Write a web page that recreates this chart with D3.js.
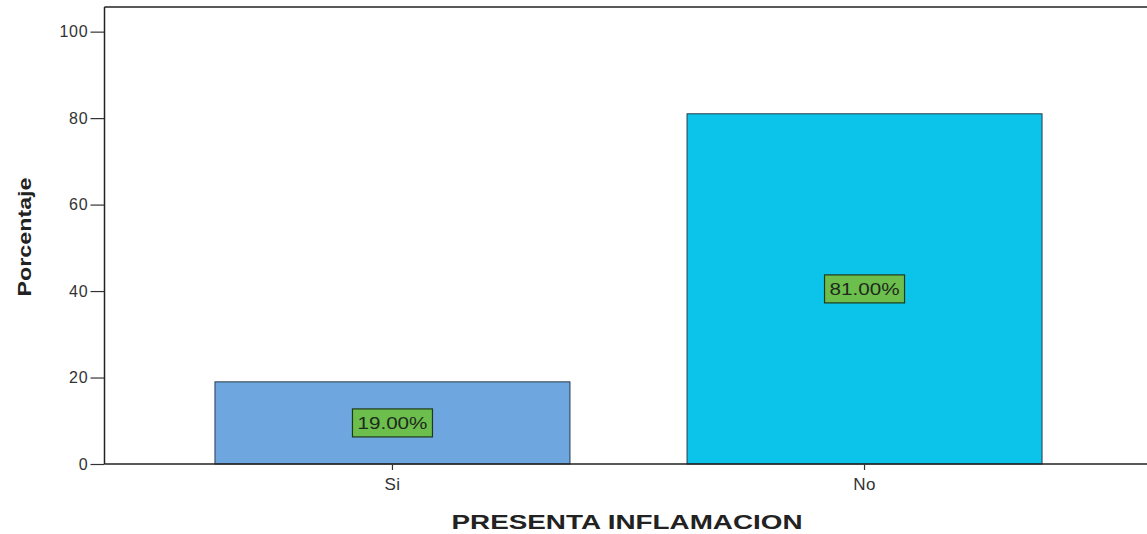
<!DOCTYPE html>
<html>
<head>
<meta charset="utf-8">
<script src="https://cdn.jsdelivr.net/npm/d3@7"></script>
<style>
  html, body { margin: 0; padding: 0; background: #fff; }
  svg { display: block; }
</style>
</head>
<body>
<svg id="chart" width="1147" height="534"></svg>
<script>
const categories = ["Si", "No"];
const values = [19.0, 81.0];
const valueLabels = ["19.00%", "81.00%"];
const yTicks = [0, 20, 40, 60, 80, 100];
const barColors = ["#6ea7df", "#0cc3ea"];

const W = 1147, H = 534;
const svg = d3.select("#chart");
const FONT = "Liberation Sans, Arial, sans-serif";

const y = d3.scaleLinear().domain([0, 105.7]).range([464, 7]);
const x = d3.scaleBand().domain(categories)
  .range([104.5, 1152.5]).paddingInner(0.248).paddingOuter(0.234);

// frame top line
svg.append("line").attr("x1", 104.5).attr("x2", W).attr("y1", 7).attr("y2", 7)
  .attr("stroke", "#222").attr("stroke-width", 1.5);

// bars
svg.selectAll("rect.bar").data(values).enter().append("rect")
  .attr("class", "bar")
  .attr("x", (d, i) => x(categories[i]))
  .attr("y", d => y(d))
  .attr("width", x.bandwidth())
  .attr("height", d => y(0) - y(d))
  .attr("fill", (d, i) => barColors[i])
  .attr("stroke", "#2a3a4a").attr("stroke-width", 1);

// value labels
const lg = svg.selectAll("g.lbl").data(values).enter().append("g")
  .attr("class", "lbl")
  .attr("transform", (d, i) => `translate(${x(categories[i]) + x.bandwidth() / 2},${(y(d) + y(0)) / 2})`);
lg.append("rect").attr("x", -40).attr("y", -14).attr("width", 80).attr("height", 28)
  .attr("fill", "#6cbf4c").attr("stroke", "#1f3a1a").attr("stroke-width", 1.2);
lg.append("text").text((d, i) => valueLabels[i])
  .attr("text-anchor", "middle").attr("dy", "0.36em")
  .attr("font-family", FONT).attr("font-size", 17)
  .attr("textLength", 70).attr("lengthAdjust", "spacingAndGlyphs")
  .attr("fill", "#1e2a1e");

// y axis
const yAxis = svg.append("g").attr("transform", "translate(104.5,0)")
  .call(d3.axisLeft(y).tickValues(yTicks).tickSize(14).tickPadding(2).tickFormat(d3.format("d")));
yAxis.select(".domain").attr("d", `M0,${y(0)}V7`).attr("stroke", "#222").attr("stroke-width", 1.5);
yAxis.selectAll(".tick line").attr("stroke", "#333").attr("stroke-width", 1.2);
yAxis.selectAll(".tick text").attr("font-family", FONT)
  .attr("font-size", 16).attr("letter-spacing", 0.8).attr("fill", "#333");

// x axis
const xAxis = svg.append("g").attr("transform", `translate(0,${y(0)})`)
  .call(d3.axisBottom(x).tickSize(6).tickPadding(8));
xAxis.select(".domain").attr("d", `M104.5,0H${W}`).attr("stroke", "#222").attr("stroke-width", 1.5);
xAxis.selectAll(".tick line").attr("stroke", "#333").attr("stroke-width", 1.2);
xAxis.selectAll(".tick text").attr("font-family", FONT)
  .attr("font-size", 17).attr("letter-spacing", 0.3).attr("fill", "#333");

// axis titles
svg.append("text").text("Porcentaje")
  .attr("transform", `translate(31,237) rotate(-90)`)
  .attr("text-anchor", "middle")
  .attr("font-family", FONT).attr("font-weight", "bold")
  .attr("font-size", 19).attr("textLength", 119).attr("lengthAdjust", "spacingAndGlyphs")
  .attr("fill", "#222");

svg.append("text").text("PRESENTA INFLAMACION")
  .attr("x", 627).attr("y", 529)
  .attr("text-anchor", "middle")
  .attr("font-family", FONT).attr("font-weight", "bold")
  .attr("font-size", 21).attr("textLength", 351).attr("lengthAdjust", "spacingAndGlyphs")
  .attr("fill", "#222");
</script>
</body>
</html>
